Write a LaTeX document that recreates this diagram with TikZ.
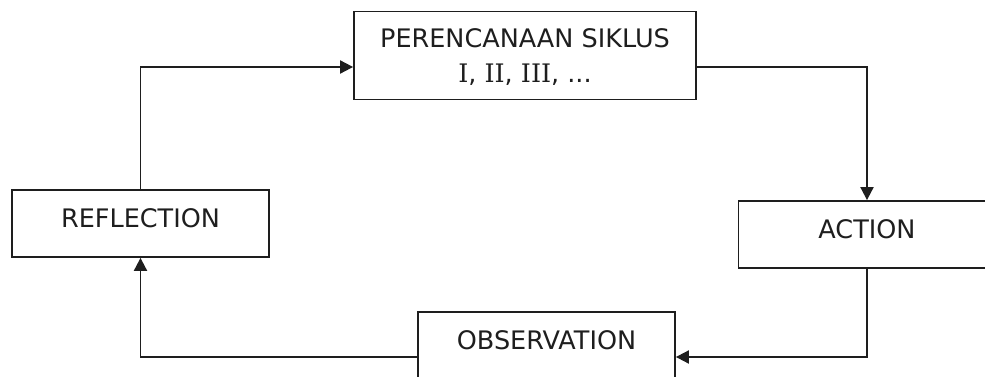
\documentclass[tikz,border=0pt]{standalone}
\usepackage{fontspec}
\setmainfont{DejaVu Sans}
\newfontfamily\romnum{DejaVu Serif}
\usetikzlibrary{arrows.meta}
\definecolor{ink}{HTML}{1E1E1E}
\tikzset{
  stagebox/.style={draw=ink, line width=1.8pt, fill=white, inner sep=0pt,
    minimum width=257pt, minimum height=67pt, text depth=10pt, text=ink,
    font=\fontsize{25.5}{35}\selectfont},
  flow/.style={draw=ink, line width=1.9pt,
    -{Triangle[length=13pt,width=13pt]}},
}
\begin{document}
\begin{tikzpicture}[x=1pt,y=-1pt]
\useasboundingbox (0,0) rectangle (985,377);
\clip (0,0) rectangle (985,377);
\fill[white] (0,0) rectangle (985,377);
\node[stagebox, minimum width=342pt, minimum height=88pt, text depth=0pt, align=center]
  (plan) at (525,55.5) {PERENCANAAN SIKLUS\\{\romnum I}, {\romnum II}, {\romnum III}, ...};
\node[stagebox] (act) at (867,234.5) {ACTION};
\node[stagebox] (obs) at (546.5,345.5) {OBSERVATION};
\node[stagebox] (refl) at (140.5,223.5) {REFLECTION};
\draw[flow] (refl.north) |- ([yshift=-11.5pt]plan.west);
\draw[flow] ([yshift=-11.5pt]plan.east) -| (act.north);
\draw[flow] (act.south) |- ([yshift=-11.5pt]obs.east);
\draw[flow] ([yshift=-11.5pt]obs.west) -| (refl.south);
\end{tikzpicture}
\end{document}
